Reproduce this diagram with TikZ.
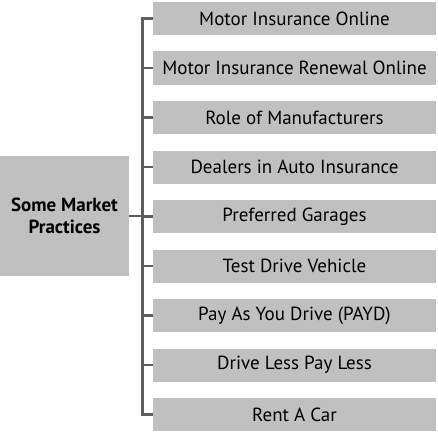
\documentclass[tikz,border=0pt]{standalone}
\usepackage{fontspec}
\setmainfont{PT Sans}
\begin{document}
\begin{tikzpicture}[x=1pt,y=-1pt,
  item/.style={fill=boxgray,draw=none,minimum width=283pt,minimum height=33pt,inner sep=0pt,font=\fontsize{19}{22}\selectfont,text=black},
  root/.style={fill=boxgray,draw=none,minimum width=129pt,minimum height=120pt,inner sep=0pt,align=center,font=\bfseries\fontsize{19}{22}\selectfont},
  conn/.style={draw=linegray,line width=2.6pt}]
\definecolor{boxgray}{HTML}{C0C0C0}
\definecolor{linegray}{HTML}{5E5E5E}
\useasboundingbox (0,0) rectangle (438,444);
\node[root] (r) at (64.5,216) {Some Market\\Practices};
\node[item] (b0) at (294.5,18.5) {Motor Insurance Online};
\node[item] (b1) at (294.5,68) {Motor Insurance Renewal Online};
\node[item] (b2) at (294.5,117.5) {Role of Manufacturers};
\node[item] (b3) at (294.5,167) {Dealers in Auto Insurance};
\node[item] (b4) at (294.5,216.5) {Preferred Garages};
\node[item] (b5) at (294.5,266) {Test Drive Vehicle};
\node[item] (b6) at (294.5,315.5) {Pay As You Drive (PAYD)};
\node[item] (b7) at (294.5,365) {Drive Less Pay Less};
\node[item] (b8) at (294.5,414.5) {Rent A Car};
\coordinate (spine) at (142.5,0);
\draw[conn] (b0.west) -- (b0.west -| spine) -- (b8.west -| spine) -- (b8.west);
\foreach \i in {1,...,7}{\draw[conn] (b\i.west) -- (b\i.west -| spine);}
\draw[conn] (r.east) -- (r.east -| spine);
\end{tikzpicture}
\end{document}
